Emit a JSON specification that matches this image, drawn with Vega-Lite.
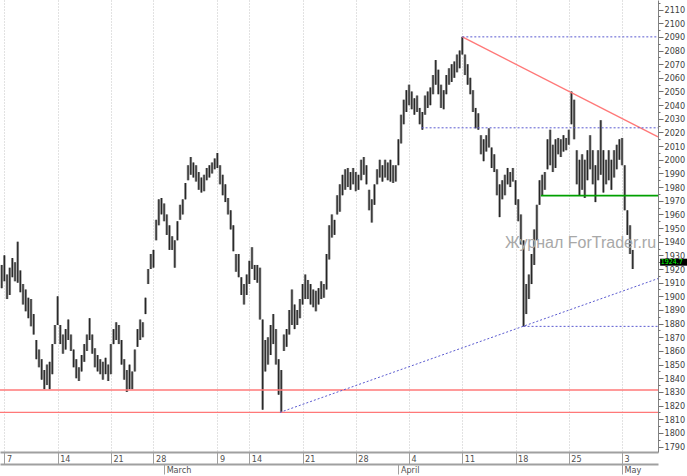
{
  "$schema": "https://vega.github.io/schema/vega-lite/v6.json",
  "width": 658,
  "height": 452,
  "autosize": {"type": "none"},
  "padding": {"left": 0, "top": 0, "right": 29, "bottom": 24},
  "background": "white",
  "config": {"view": {"stroke": null}, "font": "Liberation Sans Narrow, DejaVu Sans Condensed, sans-serif"},
  "datasets": {
    "bars": [
      {"i":-1,"h":1923,"l":1906},{"i":0,"h":1930,"l":1911},{"i":1,"h":1916,"l":1898},{"i":2,"h":1921,"l":1901},{"i":3,"h":1928,"l":1914},{"i":4,"h":1925,"l":1911},{"i":5,"h":1940,"l":1910},{"i":6,"h":1919,"l":1903},{"i":7,"h":1909,"l":1894},{"i":8,"h":1905,"l":1889},{"i":9,"h":1899,"l":1884},{"i":10,"h":1898,"l":1878},{"i":11,"h":1887,"l":1872},{"i":12,"h":1868,"l":1854},{"i":13,"h":1861,"l":1848},{"i":14,"h":1854,"l":1839},{"i":15,"h":1846,"l":1832},{"i":16,"h":1850,"l":1835},{"i":17,"h":1852,"l":1832},{"i":18,"h":1865,"l":1843},{"i":19,"h":1879,"l":1865},{"i":20,"h":1900,"l":1879},{"i":21,"h":1879,"l":1865},{"i":22,"h":1872,"l":1858},{"i":23,"h":1876,"l":1861},{"i":24,"h":1883,"l":1868},{"i":25,"h":1872,"l":1860},{"i":26,"h":1861,"l":1848},{"i":27,"h":1854,"l":1840},{"i":28,"h":1848,"l":1838},{"i":29,"h":1857,"l":1845},{"i":30,"h":1865,"l":1852},{"i":31,"h":1872,"l":1860},{"i":32,"h":1884,"l":1868},{"i":33,"h":1872,"l":1858},{"i":34,"h":1862,"l":1848},{"i":35,"h":1857,"l":1845},{"i":36,"h":1854,"l":1843},{"i":37,"h":1852,"l":1839},{"i":38,"h":1855,"l":1843},{"i":39,"h":1850,"l":1838},{"i":40,"h":1865,"l":1843},{"i":41,"h":1876,"l":1865},{"i":42,"h":1881,"l":1868},{"i":43,"h":1879,"l":1865},{"i":44,"h":1868,"l":1850},{"i":45,"h":1854,"l":1839},{"i":46,"h":1846,"l":1830},{"i":47,"h":1850,"l":1832},
      {"i":48,"h":1845,"l":1832},{"i":49,"h":1861,"l":1845},{"i":50,"h":1876,"l":1863},{"i":51,"h":1883,"l":1868},{"i":52,"h":1881,"l":1870},{"i":53,"h":1899,"l":1887},{"i":54,"h":1920,"l":1909},{"i":55,"h":1931,"l":1920},{"i":56,"h":1934,"l":1921},{"i":57,"h":1956,"l":1941},{"i":58,"h":1971,"l":1952},{"i":59,"h":1972,"l":1960},{"i":60,"h":1968,"l":1955},{"i":61,"h":1960,"l":1945},{"i":62,"h":1952,"l":1934},{"i":63,"h":1944,"l":1934},{"i":64,"h":1941,"l":1921},{"i":65,"h":1955,"l":1941},{"i":66,"h":1967,"l":1956},{"i":67,"h":1971,"l":1960},{"i":68,"h":1983,"l":1971},{"i":69,"h":1996,"l":1985},{"i":70,"h":2002,"l":1989},{"i":71,"h":1998,"l":1987},{"i":72,"h":1996,"l":1984},{"i":73,"h":1991,"l":1978},{"i":74,"h":1987,"l":1976},{"i":75,"h":1989,"l":1977},{"i":76,"h":1994,"l":1985},{"i":77,"h":1996,"l":1987},{"i":78,"h":1998,"l":1990},{"i":79,"h":2001,"l":1993},{"i":80,"h":2005,"l":1994},{"i":81,"h":1996,"l":1982},{"i":82,"h":1989,"l":1974},{"i":83,"h":1982,"l":1969},{"i":84,"h":1972,"l":1960},{"i":85,"h":1963,"l":1949},{"i":86,"h":1952,"l":1933},{"i":87,"h":1931,"l":1918},{"i":88,"h":1931,"l":1914},{"i":89,"h":1914,"l":1901},{"i":90,"h":1909,"l":1894},{"i":91,"h":1916,"l":1901},{"i":92,"h":1926,"l":1909},{"i":93,"h":1936,"l":1920},{"i":94,"h":1923,"l":1912},{"i":95,"h":1923,"l":1910},{"i":96,"h":1921,"l":1883},{"i":97,"h":1883,"l":1817},{"i":98,"h":1868,"l":1845},{"i":99,"h":1870,"l":1850},{"i":100,"h":1879,"l":1857},{"i":101,"h":1887,"l":1865},{"i":102,"h":1876,"l":1850},{"i":103,"h":1854,"l":1828},{"i":104,"h":1846,"l":1815},
      {"i":105,"h":1872,"l":1860},{"i":106,"h":1876,"l":1863},{"i":107,"h":1890,"l":1872},{"i":108,"h":1905,"l":1879},{"i":109,"h":1894,"l":1876},{"i":110,"h":1890,"l":1879},{"i":111,"h":1898,"l":1884},{"i":112,"h":1909,"l":1894},{"i":113,"h":1916,"l":1898},{"i":114,"h":1912,"l":1898},{"i":115,"h":1909,"l":1894},{"i":116,"h":1905,"l":1892},{"i":117,"h":1904,"l":1889},{"i":118,"h":1906,"l":1894},{"i":119,"h":1911,"l":1898},{"i":120,"h":1909,"l":1899},{"i":121,"h":1931,"l":1905},{"i":122,"h":1952,"l":1927},{"i":123,"h":1960,"l":1943},{"i":124,"h":1956,"l":1945},{"i":125,"h":1974,"l":1960},{"i":126,"h":1982,"l":1962},{"i":127,"h":1989,"l":1974},{"i":128,"h":1993,"l":1978},{"i":129,"h":1994,"l":1980},{"i":130,"h":1991,"l":1978},{"i":131,"h":1994,"l":1982},{"i":132,"h":1991,"l":1977},{"i":133,"h":1989,"l":1978},{"i":134,"h":2000,"l":1985},{"i":135,"h":2002,"l":1989},{"i":136,"h":1996,"l":1982},{"i":137,"h":1978,"l":1963},{"i":138,"h":1971,"l":1954},{"i":139,"h":1982,"l":1967},{"i":140,"h":1993,"l":1982},{"i":141,"h":2000,"l":1987},{"i":142,"h":1996,"l":1984},{"i":143,"h":2000,"l":1987},{"i":144,"h":1998,"l":1985},{"i":145,"h":2000,"l":1984},{"i":146,"h":1996,"l":1983},{"i":147,"h":1996,"l":1984},{"i":148,"h":2015,"l":1996},{"i":149,"h":2033,"l":2012},
      {"i":150,"h":2044,"l":2026},{"i":151,"h":2051,"l":2035},{"i":152,"h":2055,"l":2040},{"i":153,"h":2050,"l":2037},{"i":154,"h":2045,"l":2033},{"i":155,"h":2047,"l":2035},{"i":156,"h":2038,"l":2026},{"i":157,"h":2035,"l":2022},{"i":158,"h":2047,"l":2033},{"i":159,"h":2050,"l":2038},{"i":160,"h":2053,"l":2040},{"i":161,"h":2062,"l":2048},{"i":162,"h":2073,"l":2055},{"i":163,"h":2066,"l":2048},{"i":164,"h":2055,"l":2038},{"i":165,"h":2051,"l":2037},{"i":166,"h":2062,"l":2048},{"i":167,"h":2067,"l":2055},{"i":168,"h":2070,"l":2057},{"i":169,"h":2072,"l":2060},{"i":170,"h":2077,"l":2064},{"i":171,"h":2080,"l":2067},{"i":172,"h":2090,"l":2077},{"i":173,"h":2077,"l":2062},{"i":174,"h":2070,"l":2055},{"i":175,"h":2060,"l":2048},{"i":176,"h":2051,"l":2035},{"i":177,"h":2038,"l":2023},{"i":178,"h":2034,"l":2022},{"i":179,"h":2018,"l":2004},{"i":180,"h":2015,"l":1999},{"i":181,"h":2018,"l":2006},{"i":182,"h":2023,"l":2009},{"i":183,"h":2009,"l":1994},{"i":184,"h":2004,"l":1991},{"i":185,"h":1993,"l":1974},{"i":186,"h":1982,"l":1958},{"i":187,"h":1985,"l":1971},{"i":188,"h":1989,"l":1974},{"i":189,"h":1994,"l":1982},{"i":190,"h":1991,"l":1980},{"i":191,"h":1994,"l":1984},{"i":192,"h":1985,"l":1967},{"i":193,"h":1971,"l":1955},{"i":194,"h":1960,"l":1938},{"i":195,"h":1941,"l":1878},{"i":196,"h":1909,"l":1887},{"i":197,"h":1916,"l":1898},{"i":198,"h":1931,"l":1909},{"i":199,"h":1949,"l":1923},{"i":200,"h":1967,"l":1941},{"i":201,"h":1985,"l":1967},
      {"i":202,"h":1989,"l":1974},{"i":203,"h":1991,"l":1978},{"i":204,"h":2015,"l":1993},{"i":205,"h":2022,"l":1996},{"i":206,"h":2011,"l":1991},{"i":207,"h":2015,"l":1994},{"i":208,"h":2016,"l":2004},{"i":209,"h":2015,"l":2002},{"i":210,"h":2018,"l":2006},{"i":211,"h":2016,"l":2007},{"i":212,"h":2022,"l":2011},{"i":213,"h":2050,"l":2026},{"i":214,"h":2044,"l":2015},{"i":215,"h":2007,"l":1982},{"i":216,"h":2000,"l":1974},{"i":217,"h":2004,"l":1978},{"i":218,"h":2000,"l":1972},{"i":219,"h":2007,"l":1985},{"i":220,"h":2018,"l":1993},{"i":221,"h":2007,"l":1982},{"i":222,"h":1996,"l":1969},{"i":223,"h":2007,"l":1985},{"i":224,"h":2029,"l":1989},{"i":225,"h":2007,"l":1976},{"i":226,"h":2000,"l":1982},{"i":227,"h":2007,"l":1985},{"i":228,"h":2000,"l":1978},{"i":229,"h":2007,"l":1987},{"i":230,"h":2011,"l":1993},{"i":231,"h":2015,"l":2000},{"i":232,"h":2016,"l":1996},{"i":233,"h":1996,"l":1963},{"i":234,"h":1963,"l":1945},{"i":235,"h":1952,"l":1931},{"i":236,"h":1934,"l":1920}
    ],
    "lines": [
      {"kind":"red","x1":-1.65,"y1":1831.4,"x2":245.5,"y2":1831.4},
      {"kind":"red","x1":-1.65,"y1":1815,"x2":245.5,"y2":1815},
      {"kind":"red","x1":172,"y1":2090,"x2":245.5,"y2":2016.8},
      {"kind":"blue","x1":172,"y1":2090,"x2":245.5,"y2":2090},
      {"kind":"blue","x1":156.7,"y1":2023.4,"x2":245.5,"y2":2023.4},
      {"kind":"blue","x1":195,"y1":1878,"x2":245.5,"y2":1878},
      {"kind":"blue","x1":103.5,"y1":1815,"x2":245.5,"y2":1913},
      {"kind":"green","x1":201.5,"y1":1973.7,"x2":245.5,"y2":1973.7}
    ]
  },
  "resolve": {"axis": {"x": "independent", "y": "independent"}},
  "layer": [
    {
      "data": {"name": "bars"},
      "mark": {"type": "rule", "color": "#9a9a9a", "strokeWidth": 2.7},
      "encoding": {
        "x": {"field": "i", "type": "quantitative",
          "scale": {"domain": [-1.65, 245.5], "nice": false, "zero": false},
          "axis": {"orient": "bottom", "title": null, "values": [0,20,40,56,80,92,112,132,152,172,192,212,232],
            "labelExpr": "datum.value==0?'7':datum.value==20?'14':datum.value==40?'21':datum.value==56?'28':datum.value==80?'9':datum.value==92?'14':datum.value==112?'21':datum.value==132?'28':datum.value==152?'4':datum.value==172?'11':datum.value==192?'18':datum.value==212?'25':'3'",
            "grid": true, "gridColor": "#c4c4c4", "gridDash": [1, 2], "gridWidth": 1,
            "domainColor": "#a0a0a0", "domainWidth": 2, "tickColor": "#a0a0a0", "tickSize": 12,
            "labelPadding": -10, "labelAlign": "left", "labelOffset": 2, "labelBaseline": "top",
            "labelFontSize": 9, "labelColor": "#505050", "labelOverlap": false, "labelBound": false, "labelFlush": false}},
        "y": {"field": "h", "type": "quantitative",
          "scale": {"domain": [1786, 2117], "nice": false, "zero": false},
          "axis": {"orient": "right", "title": null, "format": "d",
            "values": [1790,1800,1810,1820,1830,1840,1850,1860,1870,1880,1890,1900,1910,1920,1930,1940,1950,1960,1970,1980,1990,2000,2010,2020,2030,2040,2050,2060,2070,2080,2090,2100,2110],
            "tickSize": 5, "tickColor": "#707070", "domainColor": "#808080", "labelPadding": 1,
            "labelFontSize": 9, "labelColor": "#404040", "labelOverlap": false, "labelBound": false, "labelFlush": false, "grid": false}},
        "y2": {"field": "l"}
      }
    },
    {
      "data": {"name": "bars"},
      "mark": {"type": "rule", "color": "#262626", "strokeWidth": 1.2},
      "encoding": {
        "x": {"field": "i", "type": "quantitative", "axis": null},
        "y": {"field": "h", "type": "quantitative",
          "axis": {"orient": "right", "title": null, "values": [1795,1805,1815,1825,1835,1845,1855,1865,1875,1885,1895,1905,1915,1925,1935,1945,1955,1965,1975,1985,1995,2005,2015,2025,2035,2045,2055,2065,2075,2085,2095,2105,2115],
            "labels": false, "domain": false, "tickSize": 2, "tickColor": "#707070", "grid": false}},
        "y2": {"field": "l"}
      }
    },
    {
      "data": {"name": "lines"},
      "transform": [{"filter": "datum.kind == 'red'"}],
      "mark": {"type": "rule", "color": "#ff7878", "strokeWidth": 1.4},
      "encoding": {
        "x": {"field": "x1", "type": "quantitative",
          "axis": {"orient": "bottom", "offset": 12, "title": null, "values": [60, 148, 232],
            "labelExpr": "datum.value==60?'March':datum.value==148?'April':'May'",
            "grid": false, "domainColor": "#a0a0a0", "domainWidth": 2, "tickColor": "#a0a0a0", "tickSize": 10,
            "labelPadding": -9, "labelAlign": "left", "labelOffset": 2, "labelBaseline": "top",
            "labelFontSize": 9, "labelColor": "#505050", "labelOverlap": false, "labelBound": false, "labelFlush": false}},
        "x2": {"field": "x2"},
        "y": {"field": "y1", "type": "quantitative", "axis": null},
        "y2": {"field": "y2"}
      }
    },
    {
      "data": {"name": "lines"},
      "transform": [{"filter": "datum.kind == 'blue'"}],
      "mark": {"type": "rule", "color": "#5a5ad0", "strokeWidth": 1, "strokeDash": [2, 2]},
      "encoding": {
        "x": {"field": "x1", "type": "quantitative", "axis": null},
        "x2": {"field": "x2"},
        "y": {"field": "y1", "type": "quantitative", "axis": null},
        "y2": {"field": "y2"}
      }
    },
    {
      "data": {"name": "lines"},
      "transform": [{"filter": "datum.kind == 'green'"}],
      "mark": {"type": "rule", "color": "#00a000", "strokeWidth": 1.8},
      "encoding": {
        "x": {"field": "x1", "type": "quantitative", "axis": null},
        "x2": {"field": "x2"},
        "y": {"field": "y1", "type": "quantitative", "axis": null},
        "y2": {"field": "y2"}
      }
    },
    {
      "data": {"values": [{"txt": "Журнал ForTrader.ru", "i": 188, "v": 1939}]},
      "mark": {"type": "text", "align": "left", "baseline": "middle", "fontSize": 16, "font": "Liberation Sans", "color": "#a8a8a8"},
      "encoding": {
        "x": {"field": "i", "type": "quantitative", "axis": null},
        "y": {"field": "v", "type": "quantitative", "axis": null},
        "text": {"field": "txt"}
      }
    },
    {
      "data": {"values": [{"a": 246.3, "b": 256.5, "v": 1925}]},
      "mark": {"type": "rule", "color": "black", "strokeWidth": 7, "clip": false},
      "encoding": {
        "x": {"field": "a", "type": "quantitative", "axis": null},
        "x2": {"field": "b"},
        "y": {"field": "v", "type": "quantitative", "axis": null}
      }
    },
    {
      "data": {"values": [{"a": 246.5, "v": 1925, "t": "1924.7"}]},
      "mark": {"type": "text", "align": "left", "baseline": "middle", "fontSize": 7, "color": "#00ff00", "clip": false},
      "encoding": {
        "x": {"field": "a", "type": "quantitative", "axis": null},
        "y": {"field": "v", "type": "quantitative", "axis": null},
        "text": {"field": "t"}
      }
    }
  ]
}
